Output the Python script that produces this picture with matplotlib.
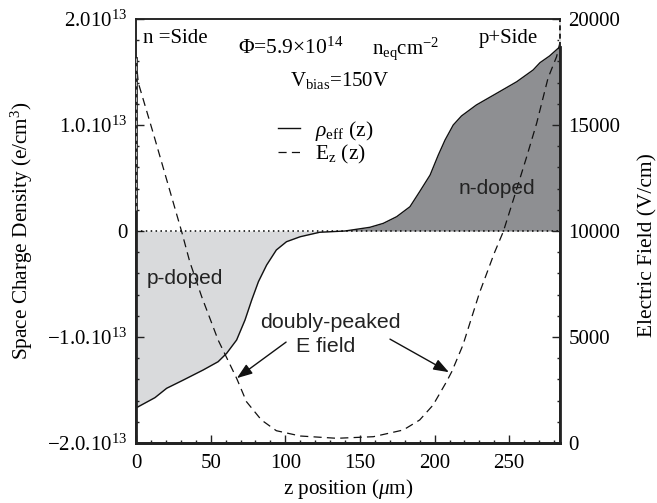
import matplotlib
matplotlib.use("Agg")
import matplotlib.pyplot as plt
import numpy as np

plt.rcParams.update(
    {
        "font.family": ["Liberation Serif", "DejaVu Serif"],
        "mathtext.fontset": "custom",
        "mathtext.rm": "Liberation Serif",
        "mathtext.it": "Liberation Serif:italic",
        "mathtext.bf": "Liberation Serif:bold",
        "font.size": 15,
    }
)

# Space charge density, in units of 1e13 e/cm3
rho_z = [0, 1.6, 12.7, 20.5, 31.7, 45, 55, 60.7, 67.4, 73, 77.5, 82, 87.5, 94, 100.8, 110,
         123, 140, 156.7, 165.6, 174.6, 183.5, 190, 197, 202.5, 207, 212.5, 218, 228,
         241.6, 255, 266, 270.6, 277, 282.8, 284]
rho_val = [-1.67, -1.657, -1.572, -1.484, -1.406, -1.311, -1.233, -1.154, -1.028, -0.84,
           -0.651, -0.478, -0.321, -0.179, -0.101, -0.054, -0.012, 0.0, 0.035, 0.072,
           0.135, 0.229, 0.371, 0.528, 0.717, 0.858, 1.0, 1.085, 1.189, 1.299, 1.408,
           1.519, 1.588, 1.651, 1.724, 1.74]

# Electric field, V/cm
e_z = [0, 0, 1.5, 11.6, 30.6, 36, 44, 55, 67.4, 74, 84, 94, 110, 134.5, 159, 179, 190, 199,
       208, 211.5, 219, 230, 240, 246, 252.7, 261.7, 268.4, 276, 281.7, 284, 284]
e_val = [16300, 18160, 17000, 14600, 9967, 8552, 6901, 4858, 3052, 1948, 1085, 580, 330,
         222, 297, 613, 1085, 1792, 2892, 3363, 4623, 7070, 8960, 9967, 11462, 13505,
         15094, 17217, 18222, 18900, 19950]

x_ticks = [0, 50, 100, 150, 200, 250]
rho_ticks = [-2, -1, 0, 1, 2]
rho_labels = [r"$-$2.0.10$^{13}$", r"$-$1.0.10$^{13}$", "0", "1.0.10$^{13}$", "2.010$^{13}$"]
e_ticks = [0, 5000, 10000, 15000, 20000]

fig = plt.figure(figsize=(6.57, 5.03), dpi=100)
ax = fig.add_axes([136 / 657, 1 - 443 / 503, 424 / 657, 424 / 503])
ax2 = ax.twinx()

# keep the dashed field line on top of the shading
ax.set_zorder(1)
ax2.set_zorder(2)
ax2.patch.set_visible(False)

z = np.array(rho_z)
rho = np.array(rho_val)
ax.fill_between(z, rho, 0, where=rho <= 0, color="#d9dadc", lw=0, interpolate=True)
ax.fill_between(z, rho, 0, where=rho >= 0, color="#8e8f92", lw=0, interpolate=True)
line_rho, = ax.plot(z, rho, color="#111111", lw=1.0, label=r"$\rho_{\mathrm{eff}}$ (z)")
ax.axhline(0, color="black", lw=1.1, ls=(0, (1, 2.2)))

line_e, = ax2.plot(e_z, e_val, color="#111111", lw=0.9, ls=(0, (6.5, 4.2)), label=r"E$_{\mathrm{z}}$ (z)")

ax.set_xlim(0, 284)
ax.set_ylim(-2, 2)
ax2.set_ylim(0, 20000)

ax.set_xticks(x_ticks)
ax.set_xticks(np.arange(0, 285, 10), minor=True)
ax.set_yticks(rho_ticks)
ax.set_yticklabels(rho_labels)
ax.set_yticks(np.arange(-2, 2.01, 0.2), minor=True)
ax2.set_yticks(e_ticks)
ax2.set_yticks(np.arange(0, 20001, 1000), minor=True)

ax.tick_params(axis="both", which="major", direction="in", length=6, width=1.0, labelsize=15, color="#222222")
ax.tick_params(axis="both", which="minor", direction="in", length=2.5, width=1.0, color="#222222")
ax.tick_params(axis="x", which="major", pad=8)
ax.tick_params(axis="y", which="major", pad=6)
ax2.tick_params(axis="y", which="major", direction="in", length=6, width=1.0, labelsize=15, pad=6, color="#222222")
ax2.tick_params(axis="y", which="minor", direction="in", length=2.5, width=1.0, color="#222222")

for a in (ax, ax2):
    a.spines["bottom"].set_linewidth(2.0)
    for side in ("left", "right", "top"):
        a.spines[side].set_linewidth(1.1)
    for s in a.spines.values():
        s.set_color("#222222")

# the frame is only heavy below where the curves meet it
ax2.plot([0, 0], [0, e_val[1]], color="#222222", lw=2.0, clip_on=False, zorder=3)
ax.plot([284, 284], [-2, rho_val[-1]], color="#222222", lw=2.0, clip_on=False, zorder=3)
ax2.plot([0, 0], [e_val[1], 11000], color="#b5b5b5", lw=0.8, ls=(0, (4, 3)), clip_on=False, zorder=4)
ax2.plot([284, 284], [18900, 20000], color="white", lw=1.2, ls=(0, (2, 3)), clip_on=False, zorder=4)

ax.set_xlabel(r"z position ($\mu$m)", fontsize=15.2, labelpad=3)
ax.set_ylabel("Space Charge Density (e/cm$^3$)", fontsize=15.3, labelpad=9)
ax2.set_ylabel("Electric Field (V/cm)", fontsize=15.4, labelpad=13)
ax2.yaxis.label.set_y(0.467)

tr = ax.transAxes
ax.text(0.016, 0.953, "n =Side", transform=tr, fontsize=15, va="center")
ax.text(0.948, 0.953, "p+Side", transform=tr, fontsize=15, va="center", ha="right")
ax.text(0.241, 0.93, r"$\Phi$=5.9$\times$10$^{14}$", transform=tr, fontsize=15.5, va="center")
ax.text(0.557, 0.93, r"n$_{\mathrm{eq}}$cm$^{\mathrm{-2}}$", transform=tr, fontsize=15, va="center")
ax.text(0.363, 0.855, r"V$_{\mathrm{bias}}$=150V", transform=tr, fontsize=15, va="center")

ax2.legend(
    [line_rho, line_e],
    [line_rho.get_label(), line_e.get_label()],
    loc="upper left",
    bbox_to_anchor=(0.309, 0.79),
    frameon=False,
    fontsize=15.5,
    handlelength=1.05,
    handletextpad=0.7,
    labelspacing=0.0,
    borderpad=0,
)

sans = "Liberation Sans"
ink = "#222222"
ax2.text(0.76, 0.6, "n-doped", transform=tr, family=sans, fontsize=15, ha="left", va="center", color=ink)
ax2.text(0.026, 0.389, "p-doped", transform=tr, family=sans, fontsize=15, ha="left", va="center", color=ink)
ax2.text(0.4575, 0.285, "doubly-peaked", transform=tr, family=sans, fontsize=15.4, ha="center", va="center", color=ink)
ax2.text(0.448, 0.227, "E field", transform=tr, family=sans, fontsize=15.4, ha="center", va="center", color=ink)

arrow = dict(arrowstyle="-|>,head_length=0.55,head_width=0.2", color="#111111", lw=1.0,
             shrinkA=0, shrinkB=0, mutation_scale=17)
ax2.annotate("", xy=(0.238, 0.153), xytext=(0.354, 0.238), xycoords=tr, textcoords=tr, arrowprops=arrow)
ax2.annotate("", xy=(0.738, 0.167), xytext=(0.599, 0.245), xycoords=tr, textcoords=tr, arrowprops=arrow)

fig.savefig("out.png", dpi=100)
